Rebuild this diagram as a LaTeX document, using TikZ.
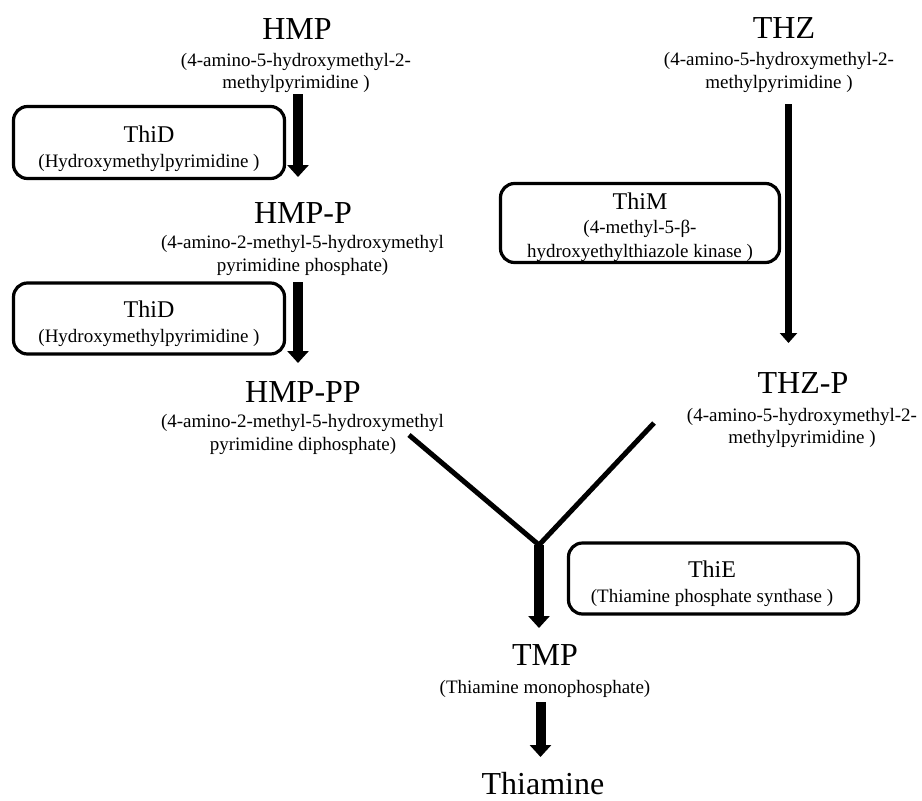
\documentclass[tikz,border=0pt]{standalone}
\usepackage{fontspec}
\setmainfont{Liberation Serif}
\usetikzlibrary{arrows.meta}

\tikzset{
  compound/.style={inner sep=0pt, anchor=base, font=\fontsize{32}{38}\selectfont},
  detail/.style={inner sep=0pt, anchor=base, align=center, font=\fontsize{19}{22.5}\selectfont},
  enzname/.style={inner sep=0pt, anchor=base, font=\fontsize{24}{28}\selectfont},
  enzbox/.style={draw, line width=3.2pt, rounded corners=14pt, inner sep=0pt},
  fatarrow/.style={line width=10pt, -{Triangle[width=21pt,length=12pt]}},
  thinarrow/.style={line width=7pt, -{Triangle[width=17pt,length=10pt]}},
  branch/.style={line width=5pt}
}

\begin{document}
\begin{tikzpicture}[x=1pt, y=-1pt]
\useasboundingbox (0,0) rectangle (922,801);

% ---- HMP branch ----
\node[compound] (hmp) at (297,39) {HMP};
\node[detail] (hmpd1) at (296,66) {(4-amino-5-hydroxymethyl-2-};
\node[detail] (hmpd2) at (296,88) {methylpyrimidine )};

\node[enzbox, minimum width=271pt, minimum height=72pt] (thid1box) at (149,142.5) {};
\node[enzname] (thid1) at (149,142) {ThiD};
\node[detail] (thid1d) at (149,167) {(Hydroxymethylpyrimidine )};

\node[compound] (hmpp) at (303,223) {HMP-P};
\node[detail] (hmppd1) at (302.5,248) {(4-amino-2-methyl-5-hydroxymethyl};
\node[detail] (hmppd2) at (302.5,271) {pyrimidine phosphate)};

\node[enzbox, minimum width=271pt, minimum height=71pt] (thid2box) at (149,318.5) {};
\node[enzname] (thid2) at (149,317) {ThiD};
\node[detail] (thid2d) at (149,342) {(Hydroxymethylpyrimidine )};

\node[compound] (hmppp) at (303,402) {HMP-PP};
\node[detail] (hmpppd1) at (302.5,427) {(4-amino-2-methyl-5-hydroxymethyl};
\node[detail] (hmpppd2) at (303,450) {pyrimidine diphosphate)};

% ---- THZ branch ----
\node[compound] (thz) at (784,38) {THZ};
\node[detail] (thzd1) at (779,65) {(4-amino-5-hydroxymethyl-2-};
\node[detail] (thzd2) at (779,88) {methylpyrimidine )};

\node[enzbox, minimum width=279pt, minimum height=79pt] (thimbox) at (640,223) {};
\node[enzname] (thim) at (640,209) {ThiM};
\node[detail] (thimd1) at (640,233) {(4-methyl-5-β-};
\node[detail] (thimd2) at (640,257) {hydroxyethylthiazole kinase )};

\node[compound] (thzp) at (803,393) {THZ-P};
\node[detail] (thzpd1) at (802,421) {(4-amino-5-hydroxymethyl-2-};
\node[detail] (thzpd2) at (802,443) {methylpyrimidine )};

% ---- condensation ----
\node[enzbox, minimum width=290pt, minimum height=71pt] (thiebox) at (713.5,578.5) {};
\node[enzname] (thie) at (712,577) {ThiE};
\node[detail] (thied) at (712,602) {(Thiamine phosphate synthase )};

\node[compound] (tmp) at (545,665) {TMP};
\node[detail] (tmpd) at (545,693) {(Thiamine monophosphate)};

\node[compound] (thiamine) at (543,794) {Thiamine};

% ---- connector end points ----
\coordinate (hmp-out)   at (298,94);
\coordinate (hmpp-in)   at (298,177);
\coordinate (hmpp-out)  at (298,282);
\coordinate (hmppp-in)  at (298,363);
\coordinate (thz-out)   at (788.5,104);
\coordinate (thzp-in)   at (788.5,343);
\coordinate (hmppp-out) at (409,435);
\coordinate (thzp-out)  at (654,423);
\coordinate (junction)  at (539,545);
\coordinate (tmp-in)    at (539,628);
\coordinate (tmp-out)   at (540.5,702);
\coordinate (thiamine-in) at (540.5,757);

% ---- connectors ----
\draw[fatarrow] (hmp-out) -- (hmpp-in);
\draw[fatarrow] (hmpp-out) -- (hmppp-in);
\draw[thinarrow] (thz-out) -- (thzp-in);
\draw[branch] (hmppp-out) -- (junction) -- (thzp-out);
\draw[fatarrow] (junction) -- (tmp-in);
\draw[fatarrow] (tmp-out) -- (thiamine-in);
\end{tikzpicture}
\end{document}
